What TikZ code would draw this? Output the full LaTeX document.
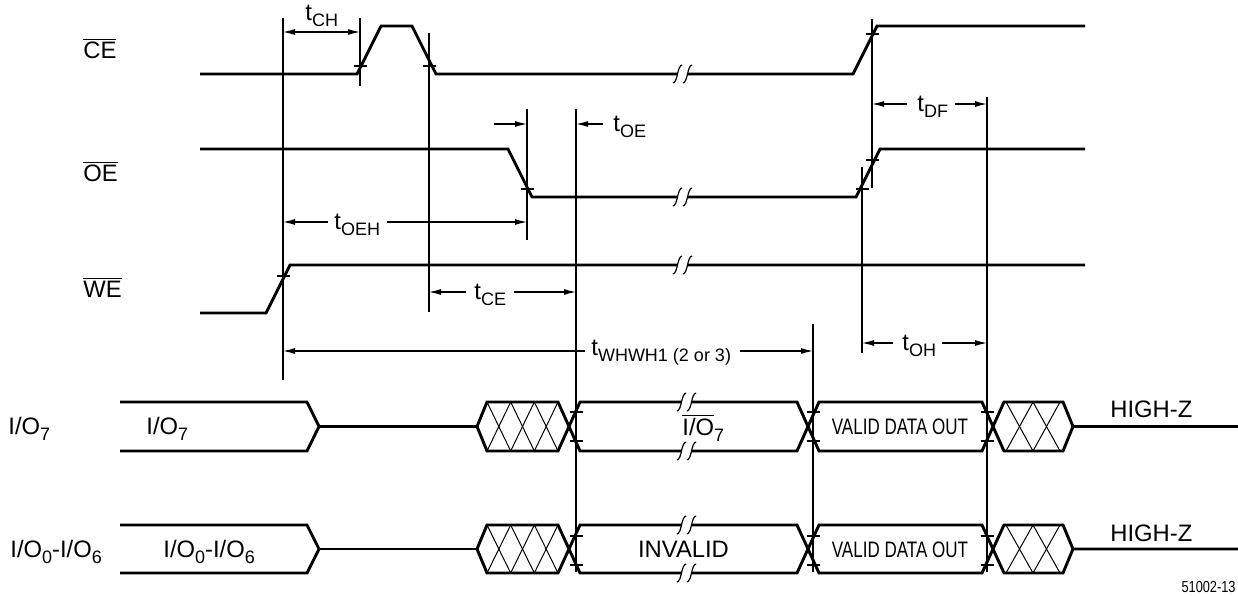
\documentclass[tikz,border=0pt]{standalone}
\usepackage{fontspec}
\setmainfont{Liberation Sans}
\usetikzlibrary{arrows.meta}
\newcommand{\sbs}[1]{\raisebox{-3.2pt}{\fontsize{9}{10}\selectfont #1}}
\newcommand{\tm}[1]{t\sbs{#1}}
\newcommand{\brk}[2]{%
  \fill[white] (#1-5,#2-3.5) rectangle (#1+4.5,#2+3.5);
  \draw[line width=0.6pt] (#1-10,#2+9) .. controls (#1-5,#2+8) and (#1-6,#2-8) .. (#1-1,#2-9);
  \draw[line width=0.6pt] (#1,#2+9) .. controls (#1+5,#2+8) and (#1+4,#2-8) .. (#1+9,#2-9);}
\begin{document}
\begin{tikzpicture}[x=0.5pt,y=-0.5pt,
  sig/.style={line width=1.45pt},
  vline/.style={line width=0.6pt},
  tick/.style={line width=0.55pt},
  hatch/.style={line width=0.5pt},
  dim/.style={line width=0.55pt,{Latex[length=6pt,width=3pt]}-{Latex[length=6pt,width=3pt]}},
  arr/.style={line width=0.55pt,-{Latex[length=6pt,width=3pt]}},
  lbl/.style={inner sep=0pt,anchor=base west,font=\fontsize{11.9}{14}\selectfont},
  lblc/.style={inner sep=0pt,anchor=base,font=\fontsize{11.9}{14}\selectfont}]
\useasboundingbox (0,0) rectangle (1238,595);

% ---------------- control signals
\draw[sig] (200,74) -- (357,74) -- (381,26) -- (412,26) -- (436,74) -- (853,74) -- (877,26) -- (1085,26);
\draw[sig] (200,149) -- (508,149) -- (532,197) -- (856,197) -- (880,149) -- (1085,149);
\draw[sig] (200,313) -- (266,313) -- (290,265) -- (1085,265);
\brk{683}{74}
\brk{683}{197}
\brk{683}{265}

\node[lbl] (ce) at (83,58.5) {$\overline{\mbox{CE}}$};
\node[lbl] (oe) at (83,181.5) {$\overline{\mbox{OE}}$};
\node[lbl] (we) at (83,297.5) {$\overline{\mbox{WE}}$};

% ---------------- vertical reference lines
\draw[vline] (283,18) -- (283,380);
\draw[vline] (360,18) -- (360,86);
\draw[vline] (429,33) -- (429,312);
\draw[vline] (527,109) -- (527,240);
\draw[vline] (576,109) -- (576,572);
\draw[vline] (813,324) -- (813,572);
\draw[vline] (862,167) -- (862,353);
\draw[vline] (872,19) -- (872,188);
\draw[vline] (987,97) -- (987,572);

% ---------------- ticks
\foreach \x/\y in {360/66,429/66,872/34,527/189,862/189,872/160,283/276,
  576/412,576/441,813/412,813/441,987/412,987/441,
  576/536,576/565,813/536,813/565,987/536,987/565}
  \draw[tick] (\x-6.5,\y) -- (\x+6.5,\y);

% ---------------- timing dimensions
\draw[dim] (283,32) -- (360,32);
\node[lbl] (tch) at (305,20) {\tm{CH}};

\draw[arr] (494,124) -- (527,124);
\draw[arr] (603,124) -- (576,124);
\node[lbl] (toe) at (613,131.5) {\tm{OE}};

\draw[arr] (907,104) -- (872,104);
\draw[arr] (955,104) -- (987,104);
\node[lbl] (tdf) at (917,111.5) {\tm{DF}};

\draw[arr] (328,222) -- (283,222);
\draw[arr] (387,222) -- (527,222);
\node[lbl] (toeh) at (334,229.5) {\tm{OEH}};

\draw[arr] (466,292) -- (429,292);
\draw[arr] (514,292) -- (576,292);
\node[lbl] (tce) at (474,299.5) {\tm{CE}};

\draw[arr] (893,343) -- (862,343);
\draw[arr] (942,343) -- (987,343);
\node[lbl] (toh) at (902,350.5) {\tm{OH}};

\draw[arr] (585,351) -- (283,351);
\draw[arr] (740,351) -- (813,351);
\node[lbl] (twh) at (591,355.5) {\tm{WHWH1 (2 or 3)}};

% ---------------- bus rows
\foreach \T/\B in {402/451,525/573}{
  \pgfmathsetmacro{\M}{(\T+\B)/2}
  \draw[sig] (120,\T) -- (307,\T) -- (319,\M) -- (307,\B) -- (120,\B);
  \draw[sig] (319,\M) -- (477,\M);
  \draw[sig] (477,\M) -- (487,\T) -- (558,\T) -- (580,\B) -- (797,\B) -- (819,\T) -- (982,\T) -- (1004,\B) -- (1063,\B) -- (1073,\M) -- (1238,\M);
  \draw[sig] (477,\M) -- (487,\B) -- (558,\B) -- (580,\T) -- (797,\T) -- (819,\B) -- (982,\B) -- (1004,\T) -- (1063,\T) -- (1073,\M);
  \foreach \i in {0,1,2}{
    \draw[hatch] (487+\i*23.667,\T) -- (487+\i*23.667+23.667,\B);
    \draw[hatch] (487+\i*23.667,\B) -- (487+\i*23.667+23.667,\T);
  }
  \foreach \i in {0,1}{
    \draw[hatch] (1006+\i*27,\T) -- (1006+\i*27+27,\B);
    \draw[hatch] (1006+\i*27,\B) -- (1006+\i*27+27,\T);
  }
  \brk{687}{\T}
  \brk{687}{\B}
}

\node[lbl] (io7l) at (8,434.5) {I/O\sbs{7}};
\node[lbl] (io7a) at (146,434.5) {I/O\sbs{7}};
\node[lbl] (io7b) at (682,435) {$\overline{\mbox{I/O}}$\sbs{7}};
\node[lblc] (vd1) at (900,434) {\fontsize{11.2}{13}\selectfont\scalebox{0.76}[1]{VALID DATA OUT}};
\node[lbl] (hz1) at (1110,417) {HIGH-Z};

\node[lbl] (io0l) at (10,557.5) {I/O\sbs{0}-I/O\sbs{6}};
\node[lbl] (io0a) at (163,557.5) {I/O\sbs{0}-I/O\sbs{6}};
\node[lblc] (inv) at (683.5,557.5) {INVALID};
\node[lblc] (vd2) at (900,557) {\fontsize{11.2}{13}\selectfont\scalebox{0.76}[1]{VALID DATA OUT}};
\node[lbl] (hz2) at (1110,541) {HIGH-Z};

\node[inner sep=0pt,anchor=base east] (fig) at (1236,592) {\fontsize{8}{9}\selectfont\scalebox{0.8}[1]{51002-13}};
\end{tikzpicture}
\end{document}
